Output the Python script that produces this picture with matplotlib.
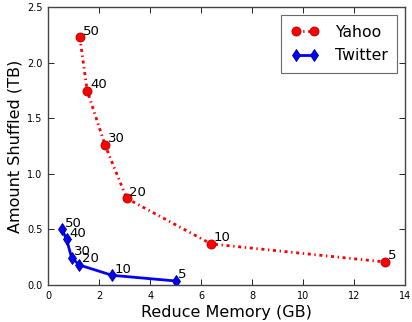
import matplotlib
matplotlib.use("Agg")
import matplotlib.pyplot as plt

yahoo_mem = [1.24, 1.53, 2.23, 3.08, 6.39, 13.22]
yahoo_shuf = [2.23, 1.75, 1.26, 0.78, 0.37, 0.207]
twitter_mem = [0.55, 0.72, 0.92, 1.22, 2.51, 5.0]
twitter_shuf = [0.50, 0.41, 0.246, 0.18, 0.087, 0.036]
labels = ["50", "40", "30", "20", "10", "5"]

fig = plt.figure(figsize=(4.12, 3.22), dpi=100)
ax = fig.add_axes([0.117, 0.115, 0.866, 0.862])

ax.plot(yahoo_mem, yahoo_shuf, color="red", linestyle=(0, (1.1, 1.3, 0.5, 1.3)), linewidth=2,
        marker="o", markersize=6.5, markeredgecolor="#aa0000", markeredgewidth=0.6, label="Yahoo")
ax.plot(twitter_mem, twitter_shuf, color="blue", linestyle="-", linewidth=2,
        marker="d", markersize=6.5, markeredgecolor="#000088", markeredgewidth=0.6, label="Twitter")

for x, y, t in zip(yahoo_mem, yahoo_shuf, labels):
    ax.annotate(t, (x, y), xytext=(2, 2), textcoords="offset points", fontsize=9.5)
for x, y, t in zip(twitter_mem, twitter_shuf, labels):
    ax.annotate(t, (x, y), xytext=(2, 2), textcoords="offset points", fontsize=9.5)

ax.set_xlim(0, 14)
ax.set_ylim(0, 2.5)
ax.set_xticks(range(0, 15, 2))
ax.set_yticks([0.0, 0.5, 1.0, 1.5, 2.0, 2.5])
ax.set_yticklabels(["0.0", "0.5", "1.0", "1.5", "2.0", "2.5"])
ax.tick_params(direction="in", top=True, right=True, labelsize=7, length=4, width=0.6, pad=4)
for s in ax.spines.values():
    s.set_color("#444444")
    s.set_linewidth(1)

ax.set_xlabel("Reduce Memory (GB)", fontsize=11.5, labelpad=3)
ax.set_ylabel("Amount Shuffled (TB)", fontsize=11.5, labelpad=3)

leg = ax.legend(loc="upper right", numpoints=2, fontsize=11.3, fancybox=False,
                handlelength=1.8, handletextpad=1.0, borderpad=0.6,
                borderaxespad=0.5, labelspacing=0.55)
leg.get_frame().set_edgecolor("#444444")
leg.get_frame().set_linewidth(0.8)

fig.savefig("out.png", dpi=100)
